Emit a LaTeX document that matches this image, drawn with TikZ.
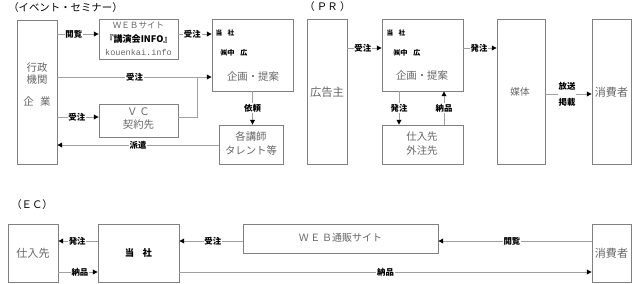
\documentclass[tikz,border=0pt]{standalone}
\usepackage{fontspec}
\setmainfont{Noto Sans CJK JP}
\newfontfamily\monofnt{Liberation Mono}
\usetikzlibrary{arrows.meta,fit}
\definecolor{boxgray}{HTML}{808080}
\definecolor{linegray}{HTML}{A0A0A0}
\definecolor{txtgray}{HTML}{666666}
\begin{document}
\begin{tikzpicture}[x=0.75pt,y=-0.75pt,
  box/.style={draw=boxgray,line width=0.6pt,inner sep=0pt},
  conn/.style={draw=linegray,line width=0.6pt},
  arr/.style={conn,-{Triangle[length=3.6pt,width=3.6pt,color=black]}},
  lab/.style={fill=white,inner sep=0.6pt,font=\bfseries\fontsize{6.3}{7}\selectfont,text=black},
  btxt/.style={inner sep=0pt,font=\fontsize{7.8}{9}\selectfont,text=txtgray},
  stxt/.style={inner sep=0pt,font=\fontsize{6.4}{7.5}\selectfont,text=txtgray},
  cotxt/.style={inner sep=0pt,font=\bfseries\fontsize{5}{6}\selectfont,text=black},
  ttl/.style={inner sep=0pt,anchor=west,font=\fontsize{7.8}{9}\selectfont,text=black}]
\useasboundingbox (0,0) rectangle (640,283);
% level coordinates
\coordinate (y34) at (0,34);
\coordinate (y48) at (0,48);
\coordinate (y77) at (0,77);
\coordinate (y94) at (0,94);
\coordinate (y117) at (0,117);
\coordinate (y145) at (0,145);
\coordinate (y241) at (0,241);
\coordinate (y272) at (0,272);
\coordinate (x399) at (399,0);
\coordinate (x444) at (444,0);
\coordinate (j1) at (197,77);

% ===== Event / seminar =====
\node[ttl] (t1) at (8,8) {（イベント・セミナー）};
\node[box,fit={(17,20) (57,164)}] (gov) {};
\node[box,fit={(99,19) (178,59)}] (web) {};
\node[box,fit={(212,19) (293,91)}] (co1) {};
\node[box,fit={(99,104) (178,137)}] (vc) {};
\node[box,fit={(219,125) (283,164)}] (tal) {};

\node[btxt] (g1) at (37,68) {行政};
\node[btxt] (g2) at (37,80) {機関};
\node[btxt] (g3) at (37,102) {企\hspace{0.6em}業};
\node[stxt] (w1) at (138.5,25) {ＷＥＢサイト};
\node[inner sep=0pt,font=\bfseries\fontsize{6.8}{8}\selectfont] (w2) at (138.5,39) {『講演会INFO』};
\node[inner sep=0pt,font=\monofnt\fontsize{6.4}{7.5}\selectfont,text=txtgray] (w3) at (138.5,52) {kouenkai.info};
\node[cotxt] (c11) at (225,33) {当\hspace{0.8em}社};
\node[cotxt,font=\bfseries\fontsize{5.3}{6}\selectfont] (c12) at (234,53) {㈱中\hspace{0.8em}広};
\node[btxt] (c13) at (253,77) {企画・提案};
\node[btxt] (v1) at (138.5,112) {Ｖ\,Ｃ};
\node[btxt] (v2) at (138.5,125) {契約先};
\node[btxt] (ta1) at (251,137) {各講師};
\node[btxt] (ta2) at (251,151) {タレント等};

\draw[arr] (gov.east |- y34) -- node[lab,pos=0.4] {閲覧} (web.west |- y34);
\draw[arr] (web.east |- y34) -- node[lab,pos=0.42] {受注} (co1.west |- y34);
\draw[arr] (gov.east |- y77) -- node[lab] {受注} (co1.west |- y77);
\draw[conn] (vc.east |- y117) -| (j1);
\draw[arr] (gov.east |- y117) -- node[lab,pos=0.47] {受注} (vc.west |- y117);
\draw[arr] (co1.south) -- node[lab] {依頼} (tal.north -| co1.south);
\draw[arr] (tal.west |- y145) -- node[lab] {派遣} (gov.east |- y145);

% ===== PR =====
\node[ttl] (t2) at (304,7) {（ ＰＲ ）};
\node[box,fit={(307,19) (347,164)}] (adv) {};
\node[box,fit={(382,19) (463,91)}] (co2) {};
\node[box,fit={(382,125) (463,164)}] (sup2) {};
\node[box,fit={(497,19) (545,164)}] (med) {};
\node[box,fit={(592,19) (631,164)}] (con) {};

\node[btxt,font=\fontsize{8.5}{9}\selectfont] (a1) at (327,92) {広告主};
\node[cotxt] (c21) at (396,33) {当\hspace{0.8em}社};
\node[cotxt,font=\bfseries\fontsize{5.3}{6}\selectfont] (c22) at (407,53) {㈱中\hspace{0.8em}広};
\node[btxt] (c23) at (422,76) {企画・提案};
\node[btxt] (s21) at (422,137) {仕入先};
\node[btxt] (s22) at (422,151) {外注先};
\node[btxt,font=\fontsize{7.2}{8}\selectfont] (m1) at (520,92) {媒体};
\node[btxt,font=\fontsize{8.3}{9}\selectfont] (cn1) at (611.5,92) {消費者};

\draw[arr] (adv.east |- y48) -- node[lab,pos=0.45] {受注} (co2.west |- y48);
\draw[arr] (co2.east |- y48) -- node[lab,pos=0.47] {発注} (med.west |- y48);
\draw[arr] (med.east |- y94) -- node[lab,pos=0.47,align=center,font=\bfseries\fontsize{6.3}{12}\selectfont] {放送\\掲載} (con.west |- y94);
\draw[arr] (co2.south -| x399) -- node[lab] {発注} (sup2.north -| x399);
\draw[arr] (sup2.north -| x444) -- node[lab] {納品} (co2.south -| x444);

% ===== EC =====
\node[ttl] (t3) at (11,205) {（ＥＣ）};
\node[box,fit={(8,224) (58,282)}] (sup3) {};
\node[box,fit={(98,224) (179,282)}] (co3) {};
\node[box,fit={(243,224) (438,253)}] (webs) {};
\node[box,fit={(592,224) (631,282)}] (con3) {};

\node[btxt,font=\fontsize{8.3}{9}\selectfont] (s31) at (33,253) {仕入先};
\node[inner sep=0pt,font=\bfseries\fontsize{7}{8}\selectfont] (c31) at (138.5,253) {当\hspace{0.9em}社};
\node[btxt,font=\fontsize{7.5}{9}\selectfont] (ws1) at (340.5,238) {Ｗ\,Ｅ\,Ｂ通販サイト};
\node[btxt,font=\fontsize{8.3}{9}\selectfont] (cn3) at (611.5,253) {消費者};

\draw[arr] (co3.west |- y241) -- node[lab,pos=0.52] {発注} (sup3.east |- y241);
\draw[arr] (sup3.east |- y272) -- node[lab,pos=0.55] {納品} (co3.west |- y272);
\draw[arr] (webs.west |- y241) -- node[lab,pos=0.47] {受注} (co3.east |- y241);
\draw[arr] (con3.west |- y241) -- node[lab,pos=0.52] {閲覧} (webs.east |- y241);
\draw[arr] (co3.east |- y272) -- node[lab] {納品} (con3.west |- y272);
\end{tikzpicture}
\end{document}
